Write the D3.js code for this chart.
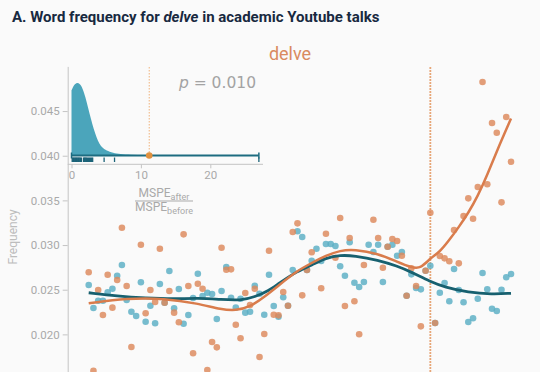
<!DOCTYPE html>
<html>
<head>
<meta charset="utf-8">
<script src="https://cdn.jsdelivr.net/npm/d3@7"></script>
<style>
  body { margin: 0; background: #fafafa; }
  svg { display: block; font-family: Roboto, sans-serif; }
</style>
</head>
<body>
<svg id="chart" width="540" height="372"></svg>
<script>
// weekly frequency of "delve" (orange) and of the synthetic control (teal)
// null = point falls below the visible part of the panel
const delveFreq = [
  0.02695, 0.01593, 0.02497, 0.02217, 0.02668, 0.02299, 0.02609, 0.03194, 0.02541, 0.01859,
  null,    0.03004, 0.02236, 0.02497, 0.02362, 0.02959, 0.02354, 0.02485, 0.02243, 0.02135,
  0.03120, 0.02541, 0.01788, 0.02567, 0.02511, 0.01601, 0.01915, 0.01855, 0.02970, 0.02724,
  0.02728, 0.02108, 0.01956, 0.02463, 0.02329, 0.02511, 0.01747, 0.02004, 0.02937, 0.02220,
  0.02213, 0.02474, 0.02321, 0.03146, 0.03243, 0.02437, 0.02721, 0.02919, null,    0.02516,
  0.03127, null,    0.02858, 0.03303, 0.02318, 0.03079, 0.02370, 0.02001, 0.02776, null,
  0.03284, 0.03079, 0.02746, 0.02981, 0.03068, 0.03045, 0.02881, 0.02433, 0.02740, 0.02541,
  0.02090, 0.02713, 0.03362, 0.02127, 0.02877, 0.02851, 0.02818, 0.03168, 0.02795, 0.03325,
  0.03523, 0.03295, 0.03650, 0.04825, 0.03680, 0.04366, 0.04257, 0.03478, 0.04433, 0.03933
];
const synthFreq = [
  0.02553, 0.02295, 0.02377, 0.02377, 0.02471, 0.02511, 0.02657, 0.02776, 0.02385, 0.02254,
  0.02206, 0.02583, 0.02142, 0.02321, 0.02124, 0.02564, 0.02354, 0.02709, 0.02292, 0.02508,
  0.02119, 0.02217, 0.02407, 0.02679, 0.02429, 0.02466, 0.02452, 0.02172, 0.02485, 0.02754,
  0.02410, 0.02299, 0.02399, 0.02243, 0.02254, 0.02545, 0.02455, 0.02220, 0.02668, 0.02318,
  0.02198, 0.02415, 0.02321, 0.02721, 0.03154, 0.03090, 0.02721, 0.02825, 0.02959, 0.02821,
  0.03012, 0.03012, 0.02989, 0.02762, 0.02657, 0.03031, 0.02578, 0.02530, 0.02586, 0.03004,
  0.02922, 0.03004, 0.02586, 0.02981, 0.03004, 0.02881, 0.02922, 0.02433, 0.02672, 0.02519,
  0.02504, 0.02713, 0.02769, 0.02127, 0.02466, 0.02575, 0.02370, 0.02732, 0.02497, 0.02359,
  0.02138, 0.02180, 0.02399, 0.02687, 0.02504, 0.02287, 0.02262, 0.02500, 0.02639, 0.02676
];

// smoothed trends (at a few weeks)
const delveSmoothAt = [0, 8, 16, 23, 28, 31, 34, 37, 40, 44, 47, 50, 53, 56, 61, 65, 68, 70, 72, 74, 76, 78, 80, 82, 84, 86, 89];
const delveSmooth = [0.02348, 0.02404, 0.02404, 0.02346, 0.02278, 0.02267, 0.02306, 0.02418, 0.02547, 0.02715,
  0.02799, 0.02883, 0.02939, 0.02952, 0.02905, 0.02813, 0.02748, 0.02737, 0.02855, 0.02922,
  0.03056, 0.03202, 0.03359, 0.03549, 0.03784, 0.04052, 0.04416];
const synthSmoothAt = [0, 6, 12, 18, 23, 28, 32, 35, 38, 40, 44, 47, 50, 53, 56, 61, 65, 68, 72, 75, 80, 85, 89];
const synthSmooth = [0.02466, 0.02429, 0.02407, 0.02396, 0.02407, 0.02390, 0.02379, 0.02418, 0.02491, 0.02569,
  0.02709, 0.02776, 0.02855, 0.02888, 0.02881, 0.02832, 0.02765, 0.02698, 0.02590, 0.02530,
  0.02469, 0.02449, 0.02460];

const interventionWeek = 72;
const yTicks = [0.020, 0.025, 0.030, 0.035, 0.040, 0.045];

// inset: placebo distribution of MSPE ratios
const ratioGrid = [0, 0.4, 0.8, 1.2, 1.6, 2.0, 2.4, 2.8, 3.2, 3.6, 4.0, 4.5, 5.0, 6.0, 7.0, 8.5, 10.5, 12];
const ratioDensity = [0.89, 0.97, 1.0, 0.98, 0.92, 0.80, 0.65, 0.50, 0.36, 0.25, 0.16, 0.10, 0.07, 0.035, 0.02, 0.01, 0.004, 0];
const placeboRatios = [0.1, 0.2, 0.3, 0.4, 0.5, 0.6, 0.7, 0.8, 0.9, 1.0, 1.1, 1.2, 1.3, 1.45,
  1.75, 1.85, 1.95, 2.05, 2.15, 2.3, 2.45, 2.6, 2.75, 2.9, 3.05, 4.7, 6.2, 27.0];
const ratioRange = [0, 27.0];
const delveRatio = 11.2;
const ratioTicks = [0, 10, 20];
const pValue = '0.010';

const orange = '#dd895c', teal = '#5aaec5';
const orangeLine = '#d97c4c', tealLine = '#17606f';
const grey = '#a9a9a9', axisGrey = '#c4c4c4';

const svg = d3.select('#chart');

// titles
svg.append('text').attr('x', 12).attr('y', 22)
  .attr('font-size', 15).attr('font-weight', 700).attr('fill', '#182940')
  .call(t => {
    t.append('tspan').text('A. Word frequency for ');
    t.append('tspan').attr('font-style', 'italic').text('delve');
    t.append('tspan').text(' in academic Youtube talks');
  });
svg.append('text').attr('x', 290).attr('y', 60).attr('text-anchor', 'middle')
  .attr('font-size', 18).attr('fill', '#d98a60').text('delve');

// main scales
const x = d3.scaleLinear().domain([0, 89]).range([88.7, 511]);
const y = d3.scaleLinear().domain([0.01, 0.05]).range([423.7, 66.4]);

const yAxis = svg.append('g').attr('transform', 'translate(67.7,0)')
  .call(d3.axisLeft(y).tickValues(yTicks).tickFormat(d3.format('.3f')).tickSize(5).tickSizeOuter(0));
yAxis.select('.domain').attr('stroke', axisGrey);
yAxis.selectAll('.tick line').attr('stroke', axisGrey);
yAxis.selectAll('.tick text').attr('fill', grey).attr('font-size', 11.5)
  .attr('font-family', 'Roboto, sans-serif').attr('x', -8);

svg.append('text').attr('transform', 'translate(17,237) rotate(-90)')
  .attr('text-anchor', 'middle').attr('font-size', 12).attr('fill', '#bdbdbd').text('Frequency');

// intervention marker
svg.append('line')
  .attr('x1', x(interventionWeek)).attr('x2', x(interventionWeek))
  .attr('y1', y(0.0499)).attr('y2', 372)
  .attr('stroke', '#e08a4c').attr('stroke-width', 1.8).attr('stroke-dasharray', '1.4,1.6');

// points
const pts = (arr, col) => svg.append('g').selectAll('circle')
  .data(arr.map((v, i) => [i, v]).filter(d => d[1] != null))
  .join('circle')
  .attr('cx', d => x(d[0])).attr('cy', d => y(d[1])).attr('r', 3.3)
  .attr('fill', col).attr('fill-opacity', 0.82);
pts(synthFreq, teal);
pts(delveFreq, orange);

// smoothed lines
const line = d3.line().x(d => x(d[0])).y(d => y(d[1])).curve(d3.curveBasis);
svg.append('path').datum(synthSmoothAt.map((w, i) => [w, synthSmooth[i]]))
  .attr('d', line).attr('fill', 'none').attr('stroke', tealLine).attr('stroke-width', 2.8);
svg.append('path').datum(delveSmoothAt.map((w, i) => [w, delveSmooth[i]]))
  .attr('d', line).attr('fill', 'none').attr('stroke', orangeLine).attr('stroke-width', 2.5);

// inset: placebo test
const ix = d3.scaleLinear().domain([0, 20]).range([71.5, 210.3]);
const iy = d3.scaleLinear().domain([0, 1]).range([155.5, 82.3]);
const insetBase = 164.3;

svg.append('line').attr('x1', ix(delveRatio)).attr('x2', ix(delveRatio))
  .attr('y1', 67).attr('y2', 155)
  .attr('stroke', '#f0b27a').attr('stroke-width', 1).attr('stroke-dasharray', '1.5,1.5');

svg.append('path')
  .datum(ratioGrid.map((r, i) => [r, ratioDensity[i]]))
  .attr('d', d3.area().x(d => ix(d[0])).y0(iy(0)).y1(d => iy(d[1])).curve(d3.curveBasis))
  .attr('fill', '#4ba5bb');

svg.append('line').attr('x1', ix(ratioRange[0])).attr('x2', ix(ratioRange[1]))
  .attr('y1', iy(0)).attr('y2', iy(0)).attr('stroke', '#1d6c80').attr('stroke-width', 2);
svg.append('g').selectAll('line').data(ratioRange).join('line')
  .attr('x1', d => ix(d)).attr('x2', d => ix(d)).attr('y1', iy(0) - 3).attr('y2', iy(0) + 3)
  .attr('stroke', '#1d6c80').attr('stroke-width', 1.5);

svg.append('g').selectAll('line').data(placeboRatios).join('line')
  .attr('x1', d => ix(d)).attr('x2', d => ix(d)).attr('y1', 157.5).attr('y2', 162)
  .attr('stroke', '#1b6378').attr('stroke-width', 1.3);

svg.append('circle').attr('cx', ix(delveRatio)).attr('cy', iy(0)).attr('r', 3.3).attr('fill', '#e0913f');

svg.append('line').attr('x1', 67.7).attr('x2', 263).attr('y1', insetBase).attr('y2', insetBase)
  .attr('stroke', axisGrey);
const xAxisIn = svg.append('g').attr('transform', `translate(0,${insetBase})`)
  .call(d3.axisBottom(ix).tickValues(ratioTicks).tickSize(4).tickSizeOuter(0));
xAxisIn.select('.domain').remove();
xAxisIn.selectAll('.tick line').attr('stroke', axisGrey);
xAxisIn.selectAll('.tick text').attr('fill', grey).attr('font-size', 11.5)
  .attr('font-family', 'Roboto, sans-serif').attr('y', 7);

// fraction label
const frac = svg.append('g').attr('fill', grey).attr('font-size', 12);
frac.append('text').attr('x', 164).attr('y', 197).attr('text-anchor', 'middle')
  .call(t => { t.append('tspan').text('MSPE'); t.append('tspan').attr('font-size', 9).attr('dy', 2.5).text('after'); });
frac.append('line').attr('x1', 135).attr('x2', 193).attr('y1', 201).attr('y2', 201)
  .attr('stroke', grey).attr('stroke-width', 1);
frac.append('text').attr('x', 164).attr('y', 211).attr('text-anchor', 'middle')
  .call(t => { t.append('tspan').text('MSPE'); t.append('tspan').attr('font-size', 9).attr('dy', 2.5).text('before'); });

svg.append('text').attr('x', 256).attr('y', 88).attr('text-anchor', 'end')
  .attr('font-family', 'DejaVu Sans, sans-serif').attr('font-size', 15.5).attr('fill', '#a3a3a3')
  .call(t => {
    t.append('tspan').attr('font-style', 'italic').text('p');
    t.append('tspan').text(' = ' + pValue);
  });
</script>
</body>
</html>
